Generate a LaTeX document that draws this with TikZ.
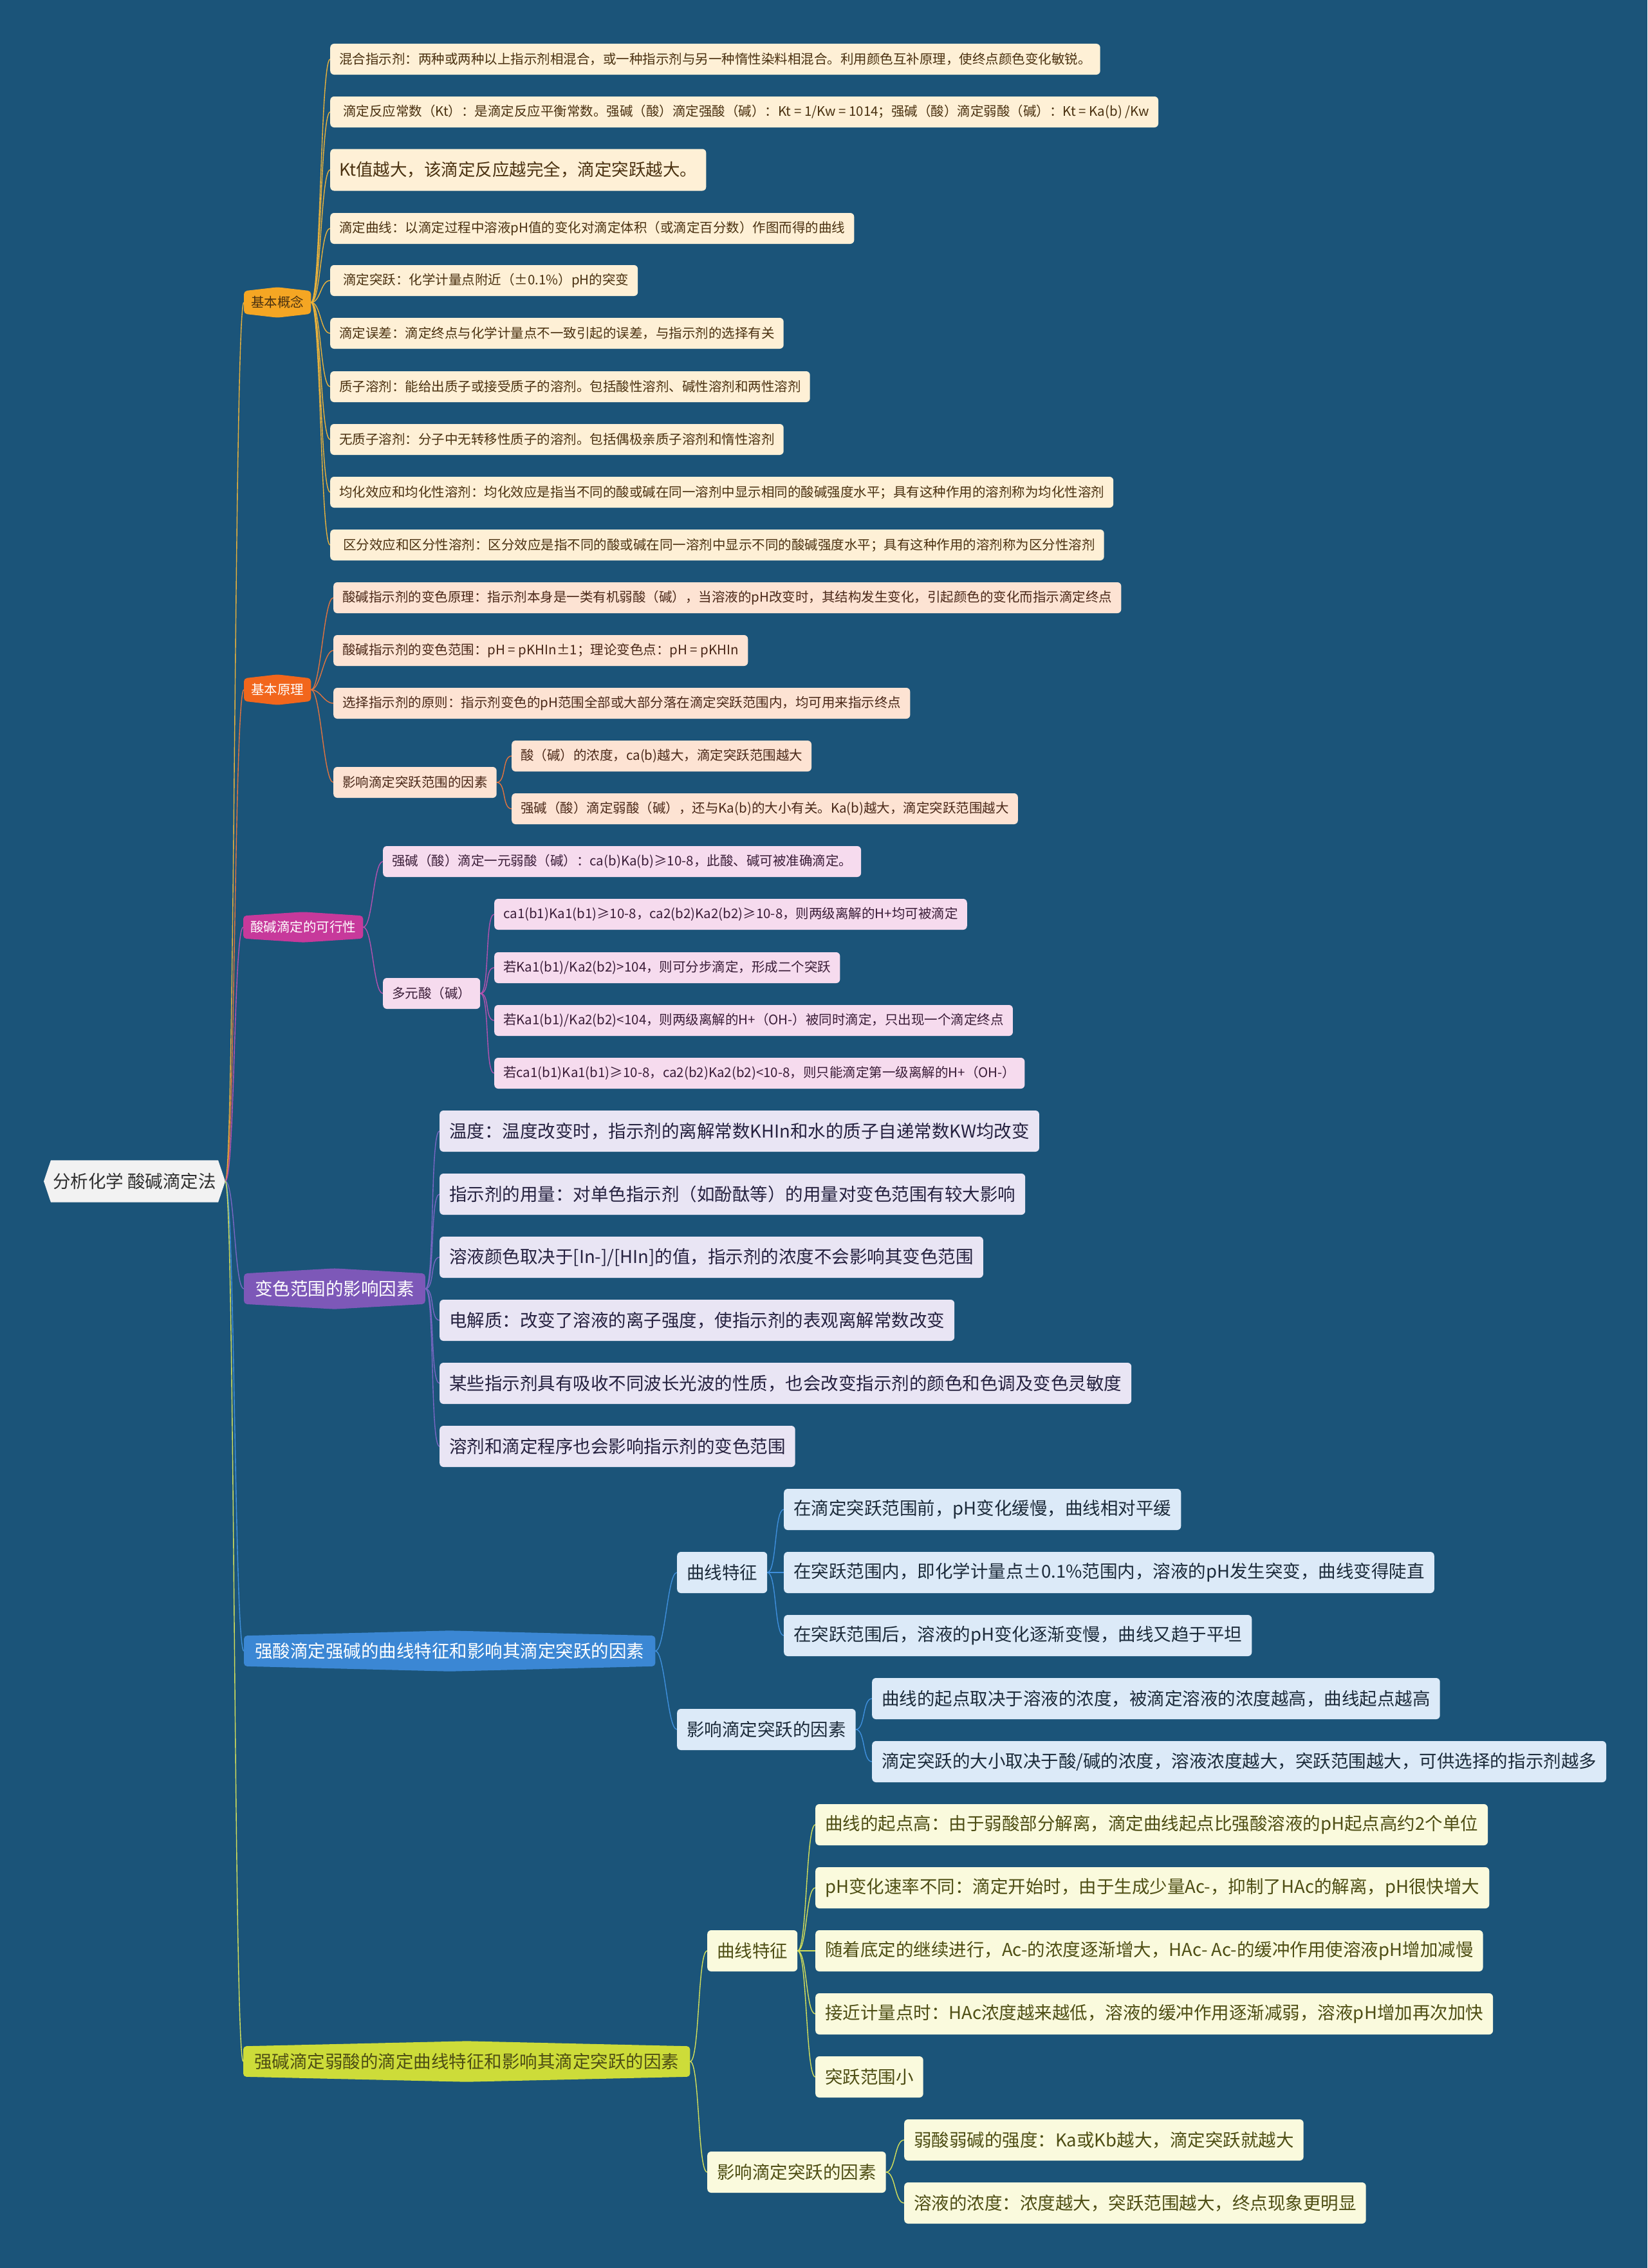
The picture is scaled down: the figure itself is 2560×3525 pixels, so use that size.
\documentclass[tikz,border=0pt]{standalone}
\usepackage{fontspec}
\setmainfont{Noto Sans CJK SC}
\usetikzlibrary{calc}
\pgfdeclarelayer{background}
\pgfsetlayers{background,main}
\definecolor{bgBlue}{HTML}{1B5479}
\definecolor{rootFill}{HTML}{F2F2F2}
\definecolor{rootInk}{HTML}{2E2E2E}
\definecolor{bOneFill}{HTML}{F5A623}
\definecolor{bOneLeaf}{HTML}{FEF0D6}
\definecolor{bOneInk}{HTML}{4A3110}
\definecolor{bOneWire}{HTML}{E9B23C}
\definecolor{bTwoFill}{HTML}{F2661C}
\definecolor{bTwoLeaf}{HTML}{FDE3D3}
\definecolor{bTwoInk}{HTML}{4A2818}
\definecolor{bTwoWire}{HTML}{E2743F}
\definecolor{bThreeFill}{HTML}{C7399B}
\definecolor{bThreeLeaf}{HTML}{F6DBEE}
\definecolor{bThreeInk}{HTML}{3A1D38}
\definecolor{bThreeWire}{HTML}{B452B0}
\definecolor{bFourFill}{HTML}{7D58B8}
\definecolor{bFourLeaf}{HTML}{E9E5F4}
\definecolor{bFourInk}{HTML}{25213F}
\definecolor{bFourWire}{HTML}{7A67C4}
\definecolor{bFiveFill}{HTML}{3B87D4}
\definecolor{bFiveLeaf}{HTML}{DCEAF8}
\definecolor{bFiveInk}{HTML}{1C2B3A}
\definecolor{bFiveWire}{HTML}{3F8FDC}
\definecolor{bSixFill}{HTML}{CDDC39}
\definecolor{bSixLeaf}{HTML}{FAFADD}
\definecolor{bSixInk}{HTML}{4E4E14}
\definecolor{bSixWire}{HTML}{D4E05A}

%% fondo a esagono schiacciato (punte in alto e in basso) per i rami
\newcommand{\hexbg}[3]{%
  \begin{pgfonlayer}{background}
    \fill[#2, rounded corners=5pt]
      ($(#1.north west)+(0,#3)$) -- (#1.north) -- ($(#1.north east)+(0,#3)$)
      -- ($(#1.south east)+(0,-#3)$) -- (#1.south) -- ($(#1.south west)+(0,-#3)$) -- cycle;
  \end{pgfonlayer}}
%% fondo della radice (punte a sinistra e a destra)
\newcommand{\rootbg}[2]{%
  \begin{pgfonlayer}{background}
    \fill[#2] ($(#1.north west)+(11,0)$) -- ($(#1.north east)+(-11,0)$) -- (#1.east)
      -- ($(#1.south east)+(-11,0)$) -- ($(#1.south west)+(11,0)$) -- (#1.west) -- cycle;
  \end{pgfonlayer}}

\begin{document}
\begin{tikzpicture}[
  x=1pt, y=-1pt,
  leaf/.style={rectangle, rounded corners=6pt, anchor=west, inner xsep=14pt, inner ysep=0pt,
    minimum height=48pt, font=\fontsize{20.5}{24}\selectfont},
  kleaf/.style={leaf, minimum height=65pt, font=\fontsize{26.5}{30}\selectfont},
  bigleaf/.style={leaf, inner xsep=15pt, minimum height=64pt, font=\fontsize{27.5}{32}\selectfont},
  branch/.style={anchor=west, inner xsep=11pt, inner ysep=0pt, minimum height=47pt,
    font=\fontsize{20.5}{24}\selectfont},
  bigbranch/.style={branch, inner xsep=17pt, minimum height=63pt, font=\fontsize{27.5}{32}\selectfont},
  wire/.style={draw=#1, line width=1.4pt}
]
  %% --- tela ---
  \useasboundingbox (0,0) rectangle (2560,3525);
  \begin{pgfonlayer}{background}
    \fill[bgBlue] (0,0) rectangle (2560,3525);
  \end{pgfonlayer}

  %% --- radice ---
  \node[anchor=west, inner xsep=14pt, minimum height=65pt, text=rootInk,
    font=\fontsize{27.5}{32}\selectfont] (root) at (68,1836) {分析化学 酸碱滴定法};
  \rootbg{root}{rootFill}

  %% --- rami principali ---
  \node[branch, text=bOneInk] (k0) at (379,470) {基本概念};
  \hexbg{k0}{bOneFill}{6}
  \node[branch, text=white] (p0) at (379,1072) {基本原理};
  \hexbg{p0}{bTwoFill}{6}
  \node[branch, text=white] (f0) at (378,1441) {酸碱滴定的可行性};
  \hexbg{f0}{bThreeFill}{6}
  \node[bigbranch, text=white] (v0) at (379,2003) {变色范围的影响因素};
  \hexbg{v0}{bFourFill}{8}
  \node[bigbranch, text=white] (s0) at (379,2566) {强酸滴定强碱的曲线特征和影响其滴定突跃的因素};
  \hexbg{s0}{bFiveFill}{8}
  \node[bigbranch, text=bSixInk] (w0) at (378,3204) {强碱滴定弱酸的滴定曲线特征和影响其滴定突跃的因素};
  \hexbg{w0}{bSixFill}{8}

  \begin{pgfonlayer}{background}
    \foreach \br/\col in {k0/bOneWire, p0/bTwoWire, f0/bThreeWire, v0/bFourWire, s0/bFiveWire, w0/bSixWire} {
      \draw[wire=\col] (root.east) .. controls +(15,0) and +(-15,0) .. (\br.west);
    }
  \end{pgfonlayer}

  %% --- base concepts ---
  \foreach \sty/\txt/\yy [count=\i] in {
    leaf/{混合指示剂：两种或两种以上指示剂相混合，或一种指示剂与另一种惰性染料相混合。利用颜色互补原理，使终点颜色变化敏锐。}/92,
    leaf/{\hspace{6pt}滴定反应常数（Kt）：是滴定反应平衡常数。强碱（酸）滴定强酸（碱）：Kt = 1/Kw = 1014；强碱（酸）滴定弱酸（碱）：Kt = Ka(b) /Kw}/174,
    kleaf/{Kt值越大，该滴定反应越完全，滴定突跃越大。}/264,
    leaf/{滴定曲线：以滴定过程中溶液pH值的变化对滴定体积（或滴定百分数）作图而得的曲线}/355,
    leaf/{\hspace{6pt}滴定突跃：化学计量点附近（±0.1\%）pH的突变}/436,
    leaf/{滴定误差：滴定终点与化学计量点不一致引起的误差，与指示剂的选择有关}/518,
    leaf/{质子溶剂：能给出质子或接受质子的溶剂。包括酸性溶剂、碱性溶剂和两性溶剂}/601,
    leaf/{无质子溶剂：分子中无转移性质子的溶剂。包括偶极亲质子溶剂和惰性溶剂}/683,
    leaf/{均化效应和均化性溶剂：均化效应是指当不同的酸或碱在同一溶剂中显示相同的酸碱强度水平；具有这种作用的溶剂称为均化性溶剂}/765,
    leaf/{\hspace{6pt}区分效应和区分性溶剂：区分效应是指不同的酸或碱在同一溶剂中显示不同的酸碱强度水平；具有这种作用的溶剂称为区分性溶剂}/847
  } {
    \node[\sty, fill=bOneLeaf, text=bOneInk] (k\i) at (513,\yy) {\txt};
    \begin{pgfonlayer}{background}
      \draw[wire=bOneWire] (k0.east) .. controls +(15,0) and +(-15,0) .. (k\i.west);
    \end{pgfonlayer}
  }

  %% --- principi ---
  \foreach \txt/\yy [count=\i] in {
    {酸碱指示剂的变色原理：指示剂本身是一类有机弱酸（碱），当溶液的pH改变时，其结构发生变化，引起颜色的变化而指示滴定终点}/929,
    {酸碱指示剂的变色范围：pH = pKHIn±1；理论变色点：pH = pKHIn}/1011,
    {选择指示剂的原则：指示剂变色的pH范围全部或大部分落在滴定突跃范围内，均可用来指示终点}/1093,
    {影响滴定突跃范围的因素}/1216
  } {
    \node[leaf, fill=bTwoLeaf, text=bTwoInk] (p\i) at (518,\yy) {\txt};
    \begin{pgfonlayer}{background}
      \draw[wire=bTwoWire] (p0.east) .. controls +(15,0) and +(-15,0) .. (p\i.west);
    \end{pgfonlayer}
  }
  \foreach \txt/\yy [count=\i] in {
    {酸（碱）的浓度，ca(b)越大，滴定突跃范围越大}/1175,
    {强碱（酸）滴定弱酸（碱），还与Ka(b)的大小有关。Ka(b)越大，滴定突跃范围越大}/1257
  } {
    \node[leaf, fill=bTwoLeaf, text=bTwoInk] (pf\i) at (795,\yy) {\txt};
    \begin{pgfonlayer}{background}
      \draw[wire=bTwoWire] (p4.east) .. controls +(15,0) and +(-15,0) .. (pf\i.west);
    \end{pgfonlayer}
  }

  %% --- fattibilita' ---
  \node[leaf, fill=bThreeLeaf, text=bThreeInk] (f1) at (595,1339)
    {强碱（酸）滴定一元弱酸（碱）：ca(b)Ka(b)≥10-8，此酸、碱可被准确滴定。};
  \node[leaf, fill=bThreeLeaf, text=bThreeInk] (f2) at (595,1544) {多元酸（碱）};
  \begin{pgfonlayer}{background}
    \draw[wire=bThreeWire] (f0.east) .. controls +(15,0) and +(-15,0) .. (f1.west);
    \draw[wire=bThreeWire] (f0.east) .. controls +(15,0) and +(-15,0) .. (f2.west);
  \end{pgfonlayer}
  \foreach \txt/\yy [count=\i] in {
    {ca1(b1)Ka1(b1)≥10-8，ca2(b2)Ka2(b2)≥10-8，则两级离解的H+均可被滴定}/1421,
    {若Ka1(b1)/Ka2(b2)>104，则可分步滴定，形成二个突跃}/1504,
    {若Ka1(b1)/Ka2(b2)<104，则两级离解的H+（OH-）被同时滴定，只出现一个滴定终点}/1586,
    {若ca1(b1)Ka1(b1)≥10-8，ca2(b2)Ka2(b2)<10-8，则只能滴定第一级离解的H+（OH-）}/1668
  } {
    \node[leaf, fill=bThreeLeaf, text=bThreeInk] (fm\i) at (768,\yy) {\txt};
    \begin{pgfonlayer}{background}
      \draw[wire=bThreeWire] (f2.east) .. controls +(15,0) and +(-15,0) .. (fm\i.west);
    \end{pgfonlayer}
  }

  %% --- intervallo di viraggio ---
  \foreach \txt/\yy [count=\i] in {
    {温度：温度改变时，指示剂的离解常数KHIn和水的质子自递常数KW均改变}/1758,
    {指示剂的用量：对单色指示剂（如酚酞等）的用量对变色范围有较大影响}/1856,
    {溶液颜色取决于[In-]/[HIn]的值，指示剂的浓度不会影响其变色范围}/1954,
    {电解质：改变了溶液的离子强度，使指示剂的表观离解常数改变}/2052,
    {某些指示剂具有吸收不同波长光波的性质，也会改变指示剂的颜色和色调及变色灵敏度}/2150,
    {溶剂和滴定程序也会影响指示剂的变色范围}/2248
  } {
    \node[bigleaf, fill=bFourLeaf, text=bFourInk] (v\i) at (683,\yy) {\txt};
    \begin{pgfonlayer}{background}
      \draw[wire=bFourWire] (v0.east) .. controls +(15,0) and +(-15,0) .. (v\i.west);
    \end{pgfonlayer}
  }

  %% --- acido forte / base forte ---
  \node[bigleaf, fill=bFiveLeaf, text=bFiveInk] (s1) at (1052,2444) {曲线特征};
  \node[bigleaf, fill=bFiveLeaf, text=bFiveInk] (s2) at (1052,2688) {影响滴定突跃的因素};
  \begin{pgfonlayer}{background}
    \draw[wire=bFiveWire] (s0.east) .. controls +(15,0) and +(-15,0) .. (s1.west);
    \draw[wire=bFiveWire] (s0.east) .. controls +(15,0) and +(-15,0) .. (s2.west);
  \end{pgfonlayer}
  \foreach \txt/\yy [count=\i] in {
    {在滴定突跃范围前，pH变化缓慢，曲线相对平缓}/2346,
    {在突跃范围内，即化学计量点±0.1\%范围内，溶液的pH发生突变，曲线变得陡直}/2444,
    {在突跃范围后，溶液的pH变化逐渐变慢，曲线又趋于平坦}/2542
  } {
    \node[bigleaf, fill=bFiveLeaf, text=bFiveInk] (sc\i) at (1218,\yy) {\txt};
    \begin{pgfonlayer}{background}
      \draw[wire=bFiveWire] (s1.east) .. controls +(15,0) and +(-15,0) .. (sc\i.west);
    \end{pgfonlayer}
  }
  \foreach \txt/\yy [count=\i] in {
    {曲线的起点取决于溶液的浓度，被滴定溶液的浓度越高，曲线起点越高}/2640,
    {滴定突跃的大小取决于酸/碱的浓度，溶液浓度越大，突跃范围越大，可供选择的指示剂越多}/2738
  } {
    \node[bigleaf, fill=bFiveLeaf, text=bFiveInk] (sf\i) at (1355,\yy) {\txt};
    \begin{pgfonlayer}{background}
      \draw[wire=bFiveWire] (s2.east) .. controls +(15,0) and +(-15,0) .. (sf\i.west);
    \end{pgfonlayer}
  }

  %% --- base forte / acido debole ---
  \node[bigleaf, fill=bSixLeaf, text=bSixInk] (w1) at (1099,3032) {曲线特征};
  \node[bigleaf, fill=bSixLeaf, text=bSixInk] (w2) at (1099,3376) {影响滴定突跃的因素};
  \begin{pgfonlayer}{background}
    \draw[wire=bSixWire] (w0.east) .. controls +(15,0) and +(-15,0) .. (w1.west);
    \draw[wire=bSixWire] (w0.east) .. controls +(15,0) and +(-15,0) .. (w2.west);
  \end{pgfonlayer}
  \foreach \txt/\yy [count=\i] in {
    {曲线的起点高：由于弱酸部分解离，滴定曲线起点比强酸溶液的pH起点高约2个单位}/2836,
    {pH变化速率不同：滴定开始时，由于生成少量Ac-，抑制了HAc的解离，pH很快增大}/2934,
    {随着底定的继续进行，Ac-的浓度逐渐增大，HAc- Ac-的缓冲作用使溶液pH增加减慢}/3032,
    {接近计量点时：HAc浓度越来越低，溶液的缓冲作用逐渐减弱，溶液pH增加再次加快}/3130,
    {突跃范围小}/3228
  } {
    \node[bigleaf, fill=bSixLeaf, text=bSixInk] (wc\i) at (1267,\yy) {\txt};
    \begin{pgfonlayer}{background}
      \draw[wire=bSixWire] (w1.east) .. controls +(15,0) and +(-15,0) .. (wc\i.west);
    \end{pgfonlayer}
  }
  \foreach \txt/\yy [count=\i] in {
    {弱酸弱碱的强度：Ka或Kb越大，滴定突跃就越大}/3326,
    {溶液的浓度：浓度越大，突跃范围越大，终点现象更明显}/3424
  } {
    \node[bigleaf, fill=bSixLeaf, text=bSixInk] (wf\i) at (1405,\yy) {\txt};
    \begin{pgfonlayer}{background}
      \draw[wire=bSixWire] (w2.east) .. controls +(15,0) and +(-15,0) .. (wf\i.west);
    \end{pgfonlayer}
  }
\end{tikzpicture}
\end{document}
